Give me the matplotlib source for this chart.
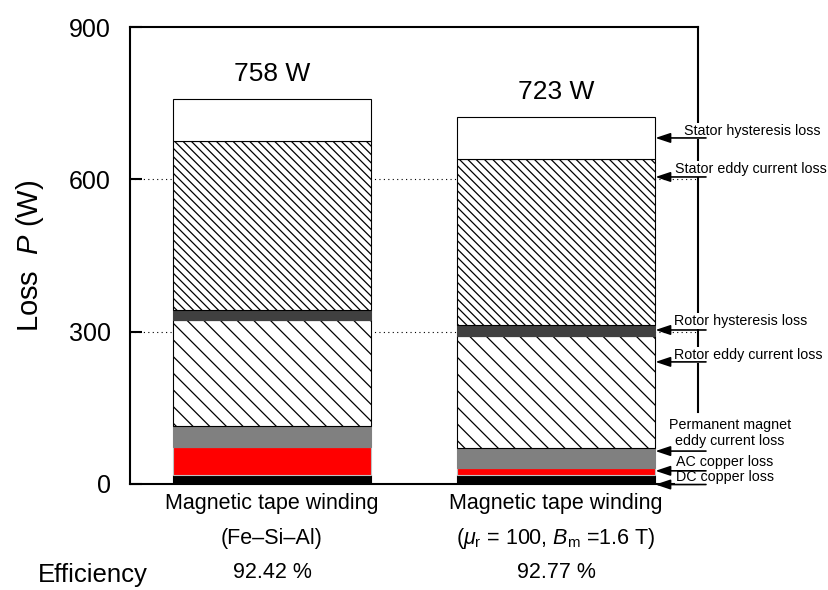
import numpy as np
import matplotlib
matplotlib.use('Agg')
import matplotlib.pyplot as plt

plt.rcParams['font.family'] = ['Liberation Sans', 'DejaVu Sans']
plt.rcParams['mathtext.fontset'] = 'custom'
plt.rcParams['mathtext.rm'] = 'Liberation Sans'
plt.rcParams['mathtext.it'] = 'Liberation Sans:italic'
plt.rcParams['hatch.linewidth'] = 0.9

# loss breakdown (W), bottom to top
windings = ['Magnetic tape winding', 'Magnetic tape winding']
materials = ['(Fe\u2013Si\u2013Al)', r'($\mu_\mathrm{r}$ = 100, $B_\mathrm{m}$ =1.6 T)']
efficiency = ['92.42 %', '92.77 %']
totals = [758, 723]

dc_copper = [17, 17]
ac_copper = [56, 13]
pm_eddy = [41, 41]
rotor_eddy = [209, 221]
rotor_hyst = [20, 21]
stator_eddy = [332, 327]
stator_hyst = [83, 83]

loss_names = ['DC copper loss', 'AC copper loss', 'Permanent magnet\neddy current loss',
              'Rotor eddy current loss', 'Rotor hysteresis loss',
              'Stator eddy current loss', 'Stator hysteresis loss']

segments = [dc_copper, ac_copper, pm_eddy, rotor_eddy, rotor_hyst, stator_eddy, stator_hyst]
faces = ['black', 'red', '#808080', 'white', '#404040', 'white', 'white']
edges = ['black', '#c0c0c0', '#808080', 'black', '#404040', 'black', 'black']
hatches = [None, None, None, '\\\\', None, '\\\\\\\\', None]

fig = plt.figure(figsize=(8.29, 5.90), dpi=100)
ax = fig.add_axes([0.1568, 0.1805, 0.6852, 0.7729])

x = np.arange(len(totals))
w = 0.7
bottom = np.zeros(len(totals))
for vals, fc, ec, h in zip(segments, faces, edges, hatches):
    ax.bar(x, vals, w, bottom=bottom, color=fc, edgecolor=ec, hatch=h, linewidth=0.8, zorder=2)
    bottom = bottom + np.array(vals)

ax.set_xlim(-0.5, 1.5)
ax.set_ylim(0, 900)
ax.set_yticks([0, 300, 600, 900])
ax.set_xticks([])
ax.tick_params(axis='y', direction='in', length=8.5, width=1.5, pad=14, labelsize=18)
for s in ['left', 'top', 'bottom']:
    ax.spines[s].set_linewidth(1.5)
ax.spines['right'].set_visible(False)
ax.plot([1.5, 1.5], [141, 900], color='black', lw=1.5, clip_on=False, zorder=1)

for yy in [300, 600]:
    ax.axhline(yy, color='black', lw=0.8, ls=(0, (1, 3)), zorder=0)

ax.set_ylabel('Loss  $P$ (W)', fontsize=21)
ax.yaxis.set_label_coords(-0.148, 0.5)

# totals above the bars
for xi, t in zip(x, totals):
    ax.annotate('%d W' % t, (xi, t), xytext=(0, 18), textcoords='offset points',
                ha='center', va='center', fontsize=19)

# labels under the bars
tr = ax.get_xaxis_transform()
for xi, a, b, e in zip(x, windings, materials, efficiency):
    ax.text(xi, -0.043, a, transform=tr, ha='center', va='center', fontsize=15.5)
    ax.text(xi, -0.12, b, transform=tr, ha='center', va='center', fontsize=15.5)
    ax.text(xi, -0.196, e, transform=tr, ha='center', va='center', fontsize=15.5)
ax.text(-0.63, -0.2, 'Efficiency', transform=tr, ha='center', va='center', fontsize=18.5)

# arrows to the right bar
arrow_y = [-2, 25, 64, 240, 303, 605, 682]
text_xy = [(1.423, 12.8), (1.423, 42.4), (1.612, 99.7), (1.416, 253.6),
           (1.416, 320.7), (1.419, 620.7), (1.451, 695.7)]
for name, ay, (tx, ty) in zip(loss_names, arrow_y, text_xy):
    ha = 'center' if '\n' in name else 'left'
    ax.text(tx, ty, name, ha=ha, va='center', fontsize=10.3, clip_on=False, zorder=3,
            linespacing=1.2,
            bbox=dict(facecolor='white', edgecolor='none', pad=0.5))
    ax.annotate('', xy=(1.35, ay), xytext=(1.528, ay), annotation_clip=False,
                arrowprops=dict(arrowstyle='-|>,head_length=0.9,head_width=0.3',
                                color='black', lw=1.2, shrinkA=0, shrinkB=0), zorder=4)

fig.savefig('out.png', dpi=100)
